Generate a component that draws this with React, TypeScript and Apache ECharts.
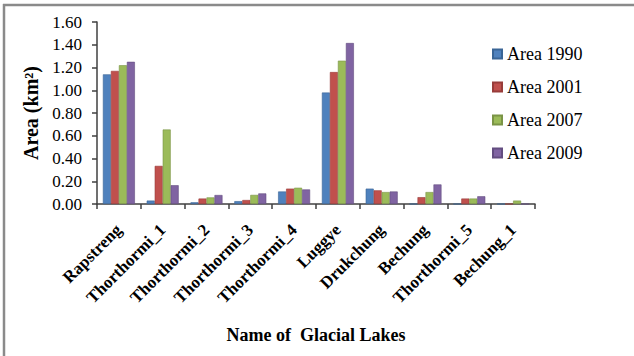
import React, { useEffect, useRef } from "react";
import * as echarts from "echarts";

const categories = [
  "Rapstreng",
  "Thorthormi_1",
  "Thorthormi_2",
  "Thorthormi_3",
  "Thorthormi_4",
  "Luggye",
  "Drukchung",
  "Bechung",
  "Thorthormi_5",
  "Bechung_1",
];
const area1990 = [1.14, 0.03, 0.015, 0.025, 0.11, 0.98, 0.135, 0, 0, 0];
const area2001 = [1.17, 0.335, 0.048, 0.035, 0.135, 1.16, 0.12, 0.06, 0.048, 0];
const area2007 = [1.22, 0.655, 0.058, 0.08, 0.143, 1.26, 0.105, 0.105, 0.048, 0.03];
const area2009 = [1.25, 0.165, 0.079, 0.093, 0.128, 1.415, 0.11, 0.172, 0.068, 0];
const seriesNames = ["Area 1990", "Area 2001", "Area 2007", "Area 2009"];
const colors = ["#4F81BD", "#C0504D", "#9BBB59", "#8064A2"];
const borders = ["#3A6596", "#983C3A", "#7A9446", "#634D80"];

const FONT = "Liberation Serif";

export default function App() {
  const ref = useRef<HTMLDivElement>(null);
  useEffect(() => {
    if (!ref.current) return;
    const chart = echarts.init(ref.current, undefined, { renderer: "svg" });
    const data = [area1990, area2001, area2007, area2009];
    chart.setOption({
      animation: false,
      backgroundColor: "#ffffff",
      textStyle: { fontFamily: FONT },
      grid: { left: 97, right: 99, top: 22, bottom: 152, containLabel: false },
      legend: {
        orient: "vertical",
        left: 487,
        top: 40,
        itemWidth: 9,
        itemHeight: 9,
        itemGap: 15,
        icon: "rect",
        textStyle: { fontFamily: FONT, fontSize: 18, color: "#000", lineHeight: 18 },
        data: seriesNames,
      },
      xAxis: {
        type: "category",
        data: categories,
        axisLine: { lineStyle: { color: "#404040", width: 1.5 } },
        axisTick: { show: true, length: 5, lineStyle: { color: "#404040", width: 1.5 } },
        axisLabel: {
          rotate: 45,
          interval: 0,
          margin: 23,
          fontFamily: FONT,
          fontWeight: "bold",
          fontSize: 17,
          color: "#000",
        },
        name: "Name of  Glacial Lakes",
        nameLocation: "middle",
        nameGap: 122,
        nameTextStyle: { fontFamily: FONT, fontWeight: "bold", fontSize: 18, color: "#000" },
      },
      yAxis: {
        type: "value",
        min: 0,
        max: 1.6,
        interval: 0.2,
        splitLine: { show: false },
        axisLine: { show: true, lineStyle: { color: "#404040", width: 1.5 } },
        axisTick: { show: true, length: 5, lineStyle: { color: "#404040", width: 1.5 } },
        axisLabel: {
          margin: 15,
          fontFamily: FONT,
          fontSize: 17,
          color: "#000",
          formatter: (v: number) => v.toFixed(2),
        },
        name: "Area (km²)",
        nameLocation: "middle",
        nameGap: 53,
        nameTextStyle: { fontFamily: FONT, fontWeight: "bold", fontSize: 20, color: "#000" },
      },
      graphic: [
        { type: "line", shape: { x1: 3, y1: 5, x2: 634, y2: 5 }, style: { stroke: "#8a8a8a", lineWidth: 2.5 } },
        { type: "line", shape: { x1: 4, y1: 4, x2: 4, y2: 356 }, style: { stroke: "#8a8a8a", lineWidth: 2.5 } },
      ],
      series: seriesNames.map((n, i) => ({
        name: n,
        type: "bar",
        data: data[i],
        barGap: "0%",
        barCategoryGap: "27%",
        itemStyle: { color: colors[i], borderColor: borders[i], borderWidth: 0.6 },
      })),
    });
    return () => chart.dispose();
  }, []);
  return (
    <div
      ref={ref}
      style={{ position: "fixed", left: 0, top: 0, width: 634, height: 356 }}
    />
  );
}
